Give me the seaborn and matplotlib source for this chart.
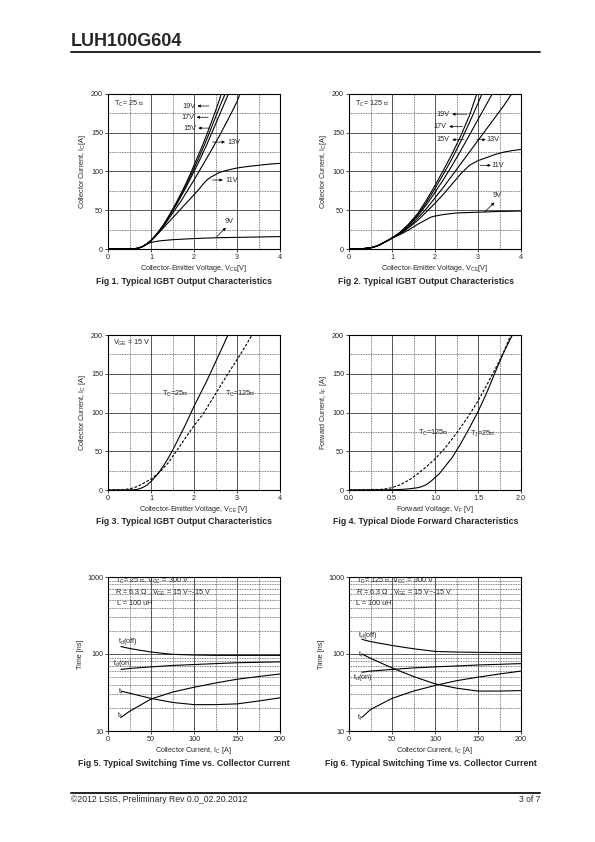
import numpy as np
import pandas as pd
import seaborn as sns
import matplotlib
matplotlib.use("Agg")
import matplotlib.pyplot as plt
from matplotlib.ticker import FixedLocator, NullFormatter, FixedFormatter

# ---- Fig 1 : IGBT output, Tc = 25 C ----
f1_v19 = [0, 0.4, 0.6, 0.7, 0.8, 0.9, 1.0, 1.1, 1.2, 1.3, 1.4, 1.5, 1.6, 1.7, 1.8, 1.9, 2.0, 2.1, 2.2, 2.3, 2.4, 2.5, 2.6, 2.63]
f1_i19 = [0, 0, 0.3, 1, 3, 6.5, 11, 17, 24, 32, 41, 51, 61, 72, 83, 95, 108, 121, 134, 148, 163, 178, 194, 200]
f1_v17 = [0, 0.4, 0.6, 0.7, 0.8, 0.9, 1.0, 1.1, 1.2, 1.3, 1.4, 1.5, 1.6, 1.7, 1.8, 1.9, 2.0, 2.1, 2.2, 2.3, 2.4, 2.5, 2.6, 2.7, 2.72]
f1_i17 = [0, 0, 0.3, 1, 3, 6.5, 11, 17, 24, 32, 41, 50, 60, 70, 81, 92, 104, 116, 129, 142, 156, 170, 184, 197, 200]
f1_v15 = [0, 0.4, 0.6, 0.7, 0.8, 0.9, 1.0, 1.1, 1.2, 1.3, 1.4, 1.5, 1.6, 1.7, 1.8, 1.9, 2.0, 2.1, 2.2, 2.3, 2.4, 2.5, 2.6, 2.7, 2.8]
f1_i15 = [0, 0, 0.3, 1, 3, 6.5, 11, 17, 24, 31, 40, 49, 58, 68, 78, 89, 100, 111, 123, 135, 148, 161, 174, 187, 200]
f1_v13 = [0, 0.4, 0.6, 0.7, 0.8, 0.9, 1.0, 1.1, 1.2, 1.3, 1.4, 1.5, 1.6, 1.7, 1.8, 1.9, 2.0, 2.2, 2.4, 2.6, 2.8, 3.0, 3.07]
f1_i13 = [0, 0, 0.3, 1, 3, 6.5, 11, 16.5, 23, 30, 38, 46, 54, 62, 71, 80, 89, 108, 127, 147, 168, 190, 200]
f1_v11 = [0, 0.4, 0.6, 0.7, 0.8, 0.9, 1.0, 1.1, 1.2, 1.3, 1.4, 1.5, 1.6, 1.7, 1.8, 1.9, 2.0, 2.1, 2.2, 2.3, 2.4, 2.5, 2.6, 2.8, 3.0, 3.25, 3.5, 3.75, 4.0]
f1_i11 = [0, 0, 0.3, 1, 3, 6.5, 10.5, 16, 22, 28, 34, 40, 46, 52, 58, 64, 70, 76, 83, 89, 93, 96, 99, 102, 104.5, 106.5, 108, 109.5, 110.5]
f1_v9 = [0, 0.4, 0.6, 0.7, 0.8, 0.9, 1.0, 1.2, 1.5, 2.0, 2.5, 3.0, 3.5, 4.0]
f1_i9 = [0, 0, 0.3, 1, 3, 6, 8.5, 10.5, 12, 13.5, 14.5, 15, 15.5, 16]

# ---- Fig 2 : IGBT output, Tc = 125 C ----
f2_v19 = [0, 0.3, 0.5, 0.6, 0.7, 0.8, 0.9, 1.0, 1.2, 1.4, 1.6, 1.8, 2.0, 2.2, 2.4, 2.6, 2.8, 2.97]
f2_i19 = [0, 0.3, 1.5, 3, 5, 8, 11, 14, 22, 33, 46, 63, 82, 102, 123, 146, 172, 200]
f2_v17 = [0, 0.3, 0.5, 0.6, 0.7, 0.8, 0.9, 1.0, 1.2, 1.4, 1.6, 1.8, 2.0, 2.2, 2.4, 2.6, 2.8, 3.0, 3.09]
f2_i17 = [0, 0.3, 1.5, 3, 5, 8, 11, 14, 22, 32, 44, 60, 78, 97, 117, 139, 163, 188, 200]
f2_v15 = [0, 0.3, 0.5, 0.6, 0.7, 0.8, 0.9, 1.0, 1.2, 1.4, 1.6, 1.8, 2.0, 2.2, 2.4, 2.6, 2.8, 3.0, 3.2, 3.33]
f2_i15 = [0, 0.3, 1.5, 3, 5, 8, 11, 14, 21, 31, 43, 57, 73, 90, 108, 127, 147, 167, 187, 200]
f2_v13 = [0, 0.3, 0.5, 0.6, 0.7, 0.8, 0.9, 1.0, 1.2, 1.4, 1.6, 1.8, 2.0, 2.2, 2.4, 2.6, 2.8, 3.0, 3.2, 3.4, 3.6, 3.78]
f2_i13 = [0, 0.3, 1.5, 3, 5, 8, 11, 14, 20, 29, 40, 52, 66, 80, 95, 110, 125, 140, 155, 170, 185, 200]
f2_v11 = [0, 0.3, 0.5, 0.6, 0.7, 0.8, 0.9, 1.0, 1.2, 1.4, 1.6, 1.8, 2.0, 2.2, 2.4, 2.6, 2.8, 3.0, 3.2, 3.4, 3.6, 3.8, 4.0]
f2_i11 = [0, 0.3, 1.5, 3, 5, 8, 11, 14, 20, 28, 37, 48, 59, 71, 84, 97, 108, 114, 118, 122, 125, 127, 128.5]
f2_v9 = [0, 0.3, 0.5, 0.6, 0.7, 0.8, 0.9, 1.0, 1.2, 1.4, 1.6, 1.8, 1.9, 2.0, 2.2, 2.5, 3.0, 3.5, 4.0]
f2_i9 = [0, 0.3, 1.5, 3, 5, 8, 11, 14, 19, 25, 32, 38, 41, 42.5, 44.5, 46.5, 47.5, 48.5, 49]

# ---- Fig 3 : IGBT output, Vge = 15 V ----
f3_v25 = [0, 0.4, 0.6, 0.7, 0.8, 0.9, 1.0, 1.1, 1.2, 1.3, 1.4, 1.5, 1.6, 1.7, 1.8, 1.9, 2.0, 2.1, 2.2, 2.3, 2.4, 2.5, 2.6, 2.7, 2.79]
f3_i25 = [0, 0, 0.3, 1, 3, 6, 11, 17, 24, 32, 41, 51, 62, 73, 84, 96, 108, 119, 130, 141, 153, 165, 177, 189, 200]
f3_v125 = [0, 0.3, 0.5, 0.6, 0.7, 0.8, 0.9, 1.0, 1.2, 1.4, 1.6, 1.8, 2.0, 2.2, 2.4, 2.6, 2.8, 3.0, 3.2, 3.35]
f3_i125 = [0, 0.3, 1.5, 3, 5, 8, 11, 14, 23, 35, 51, 67, 83, 97, 115, 133, 151, 168, 186, 200]

# ---- Fig 4 : diode forward ----
f4_v25 = [0, 0.5, 0.6, 0.7, 0.8, 0.85, 0.9, 0.95, 1.0, 1.05, 1.1, 1.2, 1.3, 1.4, 1.5, 1.6, 1.7, 1.8, 1.9]
f4_i25 = [0, 0.3, 0.7, 1.5, 3, 4.5, 7, 11, 16, 21, 28, 42, 60, 80, 101, 125, 152, 178, 200]
f4_v125 = [0, 0.3, 0.4, 0.5, 0.6, 0.7, 0.8, 0.9, 1.0, 1.1, 1.2, 1.3, 1.4, 1.5, 1.6, 1.7, 1.8, 1.88]
f4_i125 = [0, 0.5, 1, 3, 7, 13, 21, 30, 40, 52, 66, 81, 97, 115, 135, 156, 178, 200]

# ---- Fig 5 / Fig 6 : switching times ----
sw_ic = [15, 25, 50, 75, 100, 125, 150, 175, 200]
f5_tdoff = [125, 118, 106, 99, 97, 96, 96, 96, 96]
f5_tdon = [63, 65, 68, 71, 73, 75, 77, 78, 79]
f5_tr = [33, 31, 26.5, 23.5, 22, 22, 22.5, 24.5, 27]
f5_tf = [15, 18, 26, 32, 37, 42, 47, 51, 55]
f6_tdoff = [155, 145, 129, 117, 108, 106, 105, 104.5, 104]
f6_tr = [100, 88, 66, 51, 41, 36, 33, 33, 33.5]
f6_tdon = [58, 60, 63, 66, 68, 70, 72, 73.5, 75]
f6_tf = [15, 19, 26.5, 33, 39, 45, 50, 55, 60]

sns.set_style("ticks")
plt.rcParams['font.family'] = ['Liberation Sans', 'DejaVu Sans']
plt.rcParams['mathtext.fontset'] = 'custom'
plt.rcParams['mathtext.rm'] = 'Liberation Sans'
plt.rcParams['mathtext.it'] = 'Liberation Sans:italic'
plt.rcParams['mathtext.fallback'] = 'stixsans'

W, H = 595, 842
fig = plt.figure(figsize=(W / 100, H / 100), dpi=100)

FS = 5.2


def make_ax(left, top, w=172, h=155):
    return fig.add_axes([left / W, 1 - (top + h) / H, w / W, h / H])


def style(ax, xmaj, xmin, ymaj, ymin, xlim, ylim, log=False):
    ax.set_xlim(*xlim)
    ax.set_ylim(*ylim)
    if log:
        ax.set_yscale('log')
    ax.xaxis.set_major_locator(FixedLocator(xmaj))
    ax.xaxis.set_minor_locator(FixedLocator(xmin))
    ax.yaxis.set_major_locator(FixedLocator(ymaj))
    ax.yaxis.set_minor_locator(FixedLocator(ymin))
    ax.yaxis.set_minor_formatter(NullFormatter())
    ax.grid(which='major', color='#3a3a3a', lw=0.6, ls='-')
    ax.grid(which='minor', color='#555555', lw=0.6, ls=(0, (1, 1)))
    ax.set_axisbelow(True)
    ax.tick_params(which='major', length=2, width=0.6, labelsize=FS, pad=1.5, direction='out')
    ax.tick_params(which='minor', length=0)
    for s in ax.spines.values():
        s.set_linewidth(0.8)
        s.set_color('k')


def curve(ax, xs, ys, dashed=False):
    d = pd.DataFrame({'x': xs, 'y': ys})
    sns.lineplot(data=d, x='x', y='y', ax=ax, color='k', lw=0.8,
                 ls=(0, (2.5, 1.5)) if dashed else '-', estimator=None)


def arrow(ax, head, tail):
    ax.annotate('', xy=head, xytext=tail,
                arrowprops=dict(arrowstyle='-|>', lw=0.5, color='k', mutation_scale=4,
                                shrinkA=0, shrinkB=0))


def lab(ax, x, y, s, ha='center'):
    ax.text(x, y, s, fontsize=FS, ha=ha, va='center')


vce_lab = 'Collector-Emitter Voltage, V$_\\mathrm{CE}$[V]'
ic_lab = 'Collector Current, I$_\\mathrm{C}$[A]'

# Fig 1
ax1 = make_ax(108, 94)
for v, i in [(f1_v19, f1_i19), (f1_v17, f1_i17), (f1_v15, f1_i15),
             (f1_v13, f1_i13), (f1_v11, f1_i11), (f1_v9, f1_i9)]:
    curve(ax1, v, i)
style(ax1, [0, 1, 2, 3, 4], [0.5, 1.5, 2.5, 3.5], [0, 50, 100, 150, 200], [25, 75, 125, 175], (0, 4), (0, 200))
lab(ax1, 0.15, 187, 'T$_\\mathrm{C}$= 25 \u2103', ha='left')
lab(ax1, 1.88, 184.5, '19V'); arrow(ax1, (2.08, 184.5), (2.35, 184.5))
lab(ax1, 1.86, 170, '17V'); arrow(ax1, (2.06, 170), (2.33, 170))
lab(ax1, 1.9, 156, '15V'); arrow(ax1, (2.1, 156), (2.36, 156))
lab(ax1, 2.92, 138, '13V'); arrow(ax1, (2.72, 138), (2.43, 138))
lab(ax1, 2.88, 89, '11V'); arrow(ax1, (2.67, 89), (2.43, 89))
lab(ax1, 2.82, 35, '9V'); arrow(ax1, (2.74, 27.5), (2.53, 16))

# Fig 2
ax2 = make_ax(349, 94)
for v, i in [(f2_v19, f2_i19), (f2_v17, f2_i17), (f2_v15, f2_i15),
             (f2_v13, f2_i13), (f2_v11, f2_i11), (f2_v9, f2_i9)]:
    curve(ax2, v, i)
style(ax2, [0, 1, 2, 3, 4], [0.5, 1.5, 2.5, 3.5], [0, 50, 100, 150, 200], [25, 75, 125, 175], (0, 4), (0, 200))
lab(ax2, 0.15, 187, 'T$_\\mathrm{C}$= 125 \u2103', ha='left')
lab(ax2, 2.19, 174, '19V'); arrow(ax2, (2.4, 174), (2.75, 174))
lab(ax2, 2.12, 158, '17V'); arrow(ax2, (2.33, 158), (2.64, 158))
lab(ax2, 2.18, 141, '15V'); arrow(ax2, (2.4, 141), (2.68, 141))
lab(ax2, 3.34, 141, '13V'); arrow(ax2, (3.18, 141), (2.97, 141))
lab(ax2, 3.45, 108, '11V'); arrow(ax2, (3.3, 108), (3.05, 108))
lab(ax2, 3.45, 69, '9V'); arrow(ax2, (3.38, 60), (3.15, 47.5))

# Fig 3
ax3 = make_ax(108, 335)
curve(ax3, f3_v25, f3_i25)
curve(ax3, f3_v125, f3_i125, dashed=True)
style(ax3, [0, 1, 2, 3, 4], [0.5, 1.5, 2.5, 3.5], [0, 50, 100, 150, 200], [25, 75, 125, 175], (0, 4), (0, 200))
lab(ax3, 0.12, 190, 'V$_\\mathrm{GE}$ = 15 V', ha='left')
lab(ax3, 1.56, 124, 'T$_\\mathrm{C}$=25\u2103')
lab(ax3, 3.07, 124, 'T$_\\mathrm{C}$=125\u2103')

# Fig 4
ax4 = make_ax(349, 335)
curve(ax4, f4_v25, f4_i25)
curve(ax4, f4_v125, f4_i125, dashed=True)
style(ax4, [0, 0.5, 1.0, 1.5, 2.0], [0.25, 0.75, 1.25, 1.75], [0, 50, 100, 150, 200], [25, 75, 125, 175], (0, 2), (0, 200))
ax4.xaxis.set_major_formatter(FixedFormatter(['0.0', '0.5', '1.0', '1.5', '2.0']))
lab(ax4, 0.98, 74, 'T$_\\mathrm{C}$=125\u2103')
lab(ax4, 1.56, 72, 'T$_\\mathrm{J}$=25\u2103')

# Fig 5 / 6
logminor = [20, 30, 40, 50, 60, 70, 80, 90, 200, 300, 400, 500, 600, 700, 800, 900]
ax5 = make_ax(108, 577, h=154)
for t in [f5_tdoff, f5_tdon, f5_tr, f5_tf]:
    curve(ax5, sw_ic, t)
style(ax5, [0, 50, 100, 150, 200], [25, 75, 125, 175], [10, 100, 1000], logminor, (0, 200), (10, 1000), log=True)
ax5.yaxis.set_major_formatter(FixedFormatter(['10', '100', '1000']))
ax5.yaxis.set_minor_formatter(NullFormatter())
lab(ax5, 8, 880, 'T$_\\mathrm{C}$= 25 \u2103, V$_\\mathrm{CC}$ = 300 V', ha='left')
lab(ax5, 8, 620, 'R = 6.3 \u03a9 , V$_\\mathrm{GE}$ = 15 V~-15 V', ha='left')
lab(ax5, 10, 450, 'L = 100 uH', ha='left')
lab(ax5, 12, 147, 't$_\\mathrm{d}$(off)', ha='left')
lab(ax5, 6, 76, 't$_\\mathrm{d}$(on)', ha='left')
lab(ax5, 12, 32, 't$_\\mathrm{r}$', ha='left')
lab(ax5, 11, 15.6, 't$_\\mathrm{f}$', ha='left')

ax6 = make_ax(349, 577, h=154)
for t in [f6_tdoff, f6_tr, f6_tdon, f6_tf]:
    curve(ax6, sw_ic, t)
style(ax6, [0, 50, 100, 150, 200], [25, 75, 125, 175], [10, 100, 1000], logminor, (0, 200), (10, 1000), log=True)
ax6.yaxis.set_major_formatter(FixedFormatter(['10', '100', '1000']))
ax6.yaxis.set_minor_formatter(NullFormatter())
lab(ax6, 8, 880, 'T$_\\mathrm{C}$= 125 \u2103, V$_\\mathrm{CC}$ = 300 V', ha='left')
lab(ax6, 8, 620, 'R = 6.3 \u03a9 , V$_\\mathrm{GE}$ = 15 V~-15 V', ha='left')
lab(ax6, 8, 450, 'L = 100 uH', ha='left')
lab(ax6, 11, 173, 't$_\\mathrm{d}$(off)', ha='left')
lab(ax6, 10, 97, 't$_\\mathrm{r}$', ha='left')
lab(ax6, 5, 49, 't$_\\mathrm{d}$(on)', ha='left')
lab(ax6, 9.6, 15, 't$_\\mathrm{f}$', ha='left')

for ax in [ax1, ax2, ax3]:
    ax.set_xlabel(vce_lab, fontsize=FS, labelpad=1.5)
    ax.set_ylabel(ic_lab, fontsize=FS, labelpad=2)
ax3.set_ylabel('Collector Current, I$_\\mathrm{C}$ [A]', fontsize=FS, labelpad=2)
ax3.set_xlabel('Collector-Emitter Voltage, V$_\\mathrm{CE}$ [V]', fontsize=FS, labelpad=1.5)
ax4.set_xlabel('Forward Voltage, V$_\\mathrm{F}$ [V]', fontsize=FS, labelpad=1.5)
ax4.set_ylabel('Forward Current, I$_\\mathrm{F}$ [A]', fontsize=FS, labelpad=2)
for ax in [ax5, ax6]:
    ax.set_xlabel('Collector Current, I$_\\mathrm{C}$ [A]', fontsize=FS, labelpad=1.5)
    ax.set_ylabel('Time [ns]', fontsize=FS, labelpad=2)

# captions
caps = [(184, 282, 'Fig 1. Typical IGBT Output Characteristics'),
        (426, 282, 'Fig 2. Typical IGBT Output Characteristics'),
        (184, 522, 'Fig 3. Typical IGBT Output Characteristics'),
        (426, 522, 'Fig 4. Typical Diode Forward Characteristics'),
        (184, 764, 'Fig 5. Typical Switching Time vs. Collector Current'),
        (431, 764, 'Fig 6. Typical Switching Time vs. Collector Current')]
for x, y, s in caps:
    fig.text(x / W, 1 - y / H, s, fontsize=6.3, fontweight='bold', ha='center', va='center')

# header / footer
fig.text(71 / W, 1 - 41 / H, 'LUH100G604', fontsize=13, fontweight='bold', ha='left', va='center')
fig.add_artist(plt.Line2D([71 / W, 540 / W], [1 - 51.5 / H, 1 - 51.5 / H], color='#222222', lw=1.4))
fig.add_artist(plt.Line2D([71 / W, 540 / W], [1 - 793 / H, 1 - 793 / H], color='#222222', lw=1.4))
fig.text(71 / W, 1 - 800 / H, '\u00a92012 LSIS, Preliminary Rev 0.0_02.20.2012', fontsize=6.2, ha='left', va='center')
fig.text(540 / W, 1 - 800 / H, '3 of 7', fontsize=6.2, ha='right', va='center')

fig.savefig('out.png', dpi=100, facecolor='white')
